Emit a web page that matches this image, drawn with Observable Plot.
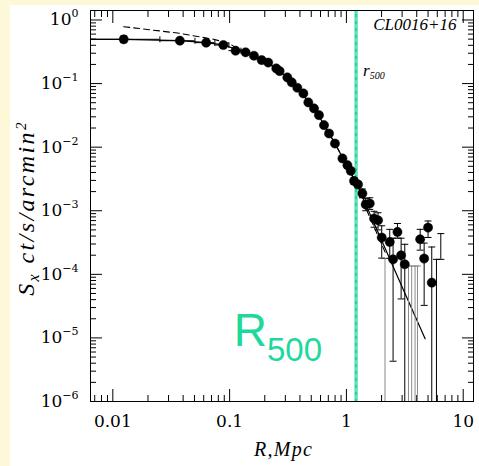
<!DOCTYPE html>
<html><head><meta charset="utf-8">
<script src="https://cdn.jsdelivr.net/npm/d3@7"></script>
<script src="https://cdn.jsdelivr.net/npm/@observablehq/plot@0.6"></script>
<style>
html,body{margin:0;padding:0;background:#fdf9d8;width:479px;height:466px;overflow:hidden;}
#chart{position:absolute;left:10px;top:5px;width:469px;height:461px;background:#fff;}
svg{display:block;}
</style></head><body><div id="chart"></div>
<script>
// ---- data ----
const R   = [0.0124, 0.0375, 0.063, 0.0883, 0.1125, 0.137, 0.1615, 0.188, 0.214, 0.251, 0.268, 0.312, 0.34, 0.38, 0.428, 0.472, 0.528, 0.582, 0.643, 0.71, 0.798, 0.925, 1.02, 1.089, 1.162, 1.257, 1.37, 1.463, 1.584, 1.725, 1.866, 2.006, 2.35, 2.51, 2.735, 2.94, 3.16, 4.28, 4.63, 5.0, 5.38];
const S   = [0.497, 0.472, 0.44, 0.404, 0.329, 0.31, 0.274, 0.234, 0.214, 0.173, 0.157, 0.125, 0.1045, 0.0859, 0.070, 0.0506, 0.0407, 0.0319, 0.0222, 0.0164, 0.0114, 0.00664, 0.0052, 0.00424, 0.00294, 0.00259, 0.00187, 0.00125, 0.0013, 0.000753, 0.000708, 0.000378, 0.000323, 0.000172, 0.000464, 0.000199, 0.000144, 0.000356, 0.000177, 0.000543, 0.000074];
const SLO = [0.44, 0.455, 0.425, 0.39, 0.318, 0.30, 0.265, 0.226, 0.206, 0.167, 0.151, 0.12, 0.1, 0.082, 0.0665, 0.048, 0.0385, 0.030, 0.0208, 0.0153, 0.0106, 0.0061, 0.0047, 0.0038, 0.0026, 0.0023, 0.0016, 0.00100, 0.00105, 0.00055, 0.0005, 0.00018, 0.000179, 0.0000043, 0.00037, 0.000041, 1e-6, 0.00024, 0.0000325, 0.00038, 1e-6];
const SHI = [0.56, 0.49, 0.455, 0.418, 0.34, 0.32, 0.283, 0.242, 0.222, 0.179, 0.163, 0.13, 0.109, 0.09, 0.0735, 0.0532, 0.043, 0.0338, 0.0236, 0.0175, 0.0122, 0.0072, 0.0057, 0.0047, 0.0033, 0.0029, 0.0022, 0.00155, 0.0016, 0.00098, 0.00093, 0.00058, 0.00051, 0.00037, 0.00063, 0.00037, 0.000297, 0.00051, 0.00031, 0.00069, 0.000269];
// radial bins of the innermost points
const BIN_LO = [0.00644, 0.0253, 0.0505, 0.0748, 0.0986];
const BIN_HI = [0.0253, 0.0505, 0.0748, 0.0986, 0.125];
// error bars of non-positive points (upper limits reaching the floor)
const OPEN_R  = [2.14, 3.40, 3.62, 3.87, 4.06];
const OPEN_HI = [0.000177, 0.000135, 0.000135, 0.000135, 0.000135];
const DARK_R  = [5.9, 6.43];
const DARK_LO = [1e-6, 0.000172];
const DARK_HI = [0.000172, 0.000437];
// model curves
const MODEL_R = [0.00644, 0.0124, 0.0375, 0.063, 0.088, 0.11, 0.137, 0.16, 0.19, 0.214, 0.25, 0.3, 0.34, 0.38, 0.43, 0.47, 0.53, 0.58, 0.64, 0.71, 0.8, 0.9, 1.0, 1.1, 1.257, 1.5, 2, 3, 4.72];
const MODEL_S = [0.497, 0.497, 0.472, 0.44, 0.405, 0.355, 0.305, 0.272, 0.232, 0.21, 0.173, 0.133, 0.106, 0.086, 0.066, 0.052, 0.040, 0.031, 0.0228, 0.0165, 0.0113, 0.0076, 0.0054, 0.0039, 0.00237, 0.00114, 0.000344, 0.000063, 0.0000097];
const DASH_R = [0.0124, 0.0375, 0.073, 0.098, 0.116, 0.14, 0.17, 0.2, 0.25, 0.3, 0.38, 0.47, 0.58, 0.71, 0.8, 0.9, 1.0, 1.1, 1.257, 1.5, 2.0, 2.2];
const DASH_S = [0.785, 0.617, 0.497, 0.43, 0.36, 0.305, 0.262, 0.224, 0.173, 0.133, 0.086, 0.052, 0.031, 0.0165, 0.0113, 0.0076, 0.0053, 0.0038, 0.0022, 0.001, 0.0003, 0.0002];
const R500 = 1.21;
const X_DOMAIN = [0.00644, 12.25];
const Y_DOMAIN = [1e-6, 1.41];
const X_MAJOR = [0.01, 0.1, 1, 10];
const X_MINOR = [0.007,0.008,0.009,0.02,0.03,0.04,0.05,0.06,0.07,0.08,0.09,0.2,0.3,0.4,0.5,0.6,0.7,0.8,0.9,2,3,4,5,6,7,8,9];
const Y_MAJOR = [1e-6, 1e-5, 1e-4, 1e-3, 1e-2, 1e-1, 1];
const Y_MINOR = [];
for (const e of [-6,-5,-4,-3,-2,-1]) for (const m of [2,3,4,5,6,7,8,9]) Y_MINOR.push(+(m*Math.pow(10,e)).toPrecision(3));
const TITLE = "CL0016+16";
const XLABEL = "R,Mpc";
const YLABEL = "S_x ct/s/arcmin^2";
const R500_SMALL = "r_500";
const R500_BIG = "R_500";

// ---- build ----
const FLOOR = Y_DOMAIN[0];
const pts = R.map((r,i)=>({r, s:S[i], lo:SLO[i], hi:SHI[i]}));
const model = MODEL_R.map((r,i)=>({r, s:MODEL_S[i]}));
const dash = DASH_R.map((r,i)=>({r, s:DASH_S[i]}));
const bins = BIN_LO.map((lo,i)=>({lo, hi:BIN_HI[i], s:S[i]}));
const openBars = OPEN_R.map((r,i)=>({r, lo:FLOOR, hi:OPEN_HI[i]}));
const darkBars = DARK_R.map((r,i)=>({r, lo:DARK_LO[i], hi:DARK_HI[i]}));
const green = "#1fd89c";
const serif = "Liberation Serif";
const tickFont = "DejaVu Serif";
const hCap = {draw(c){c.moveTo(-3.5,0);c.lineTo(3.5,0);}};
const vCap = {draw(c){c.moveTo(0,-3);c.lineTo(0,3);}};
const allBars = pts.concat(darkBars);

const axOpts = {label:null, fontFamily:tickFont, fontSize:17};
const chart = Plot.plot({
  width:469, height:461, marginLeft:80, marginRight:6, marginTop:5, marginBottom:65,
  x:{type:"log", domain:X_DOMAIN, axis:null, label:null},
  y:{type:"log", domain:Y_DOMAIN, axis:null, label:null},
  style:{background:"white", color:"black", fontFamily:serif},
  marks:[
    Plot.ruleX([R500], {x:d=>d, stroke:green, strokeWidth:3}),
    Plot.ruleX([R500], {x:d=>d, stroke:"white", strokeWidth:0.8, strokeDasharray:"4,3", strokeOpacity:0.7}),
    // ticks
    Plot.axisX(X_MAJOR, {...axOpts, anchor:"bottom", tickSize:-12, tickPadding:25, tickFormat:d=>String(d)}),
    Plot.axisX(X_MINOR, {anchor:"bottom", tickSize:-6, fill:"none", label:null}),
    Plot.axisX(X_MAJOR, {anchor:"top", tickSize:-12, fill:"none", label:null}),
    Plot.axisX(X_MINOR, {anchor:"top", tickSize:-6, fill:"none", label:null}),
    Plot.axisY(Y_MAJOR, {...axOpts, anchor:"left", tickSize:-12, tickPadding:24, tickFormat:d=>"10^"+Math.round(Math.log10(d))}),
    Plot.axisY(Y_MINOR, {anchor:"left", tickSize:-6, fill:"none", label:null}),
    Plot.axisY(Y_MAJOR, {anchor:"right", tickSize:-12, fill:"none", label:null}),
    Plot.axisY(Y_MINOR, {anchor:"right", tickSize:-6, fill:"none", label:null}),
    // model curves
    Plot.line(dash, {x:"r", y:"s", stroke:"black", strokeWidth:1.1, strokeDasharray:"6,4"}),
    Plot.line(model, {x:"r", y:"s", stroke:"black", strokeWidth:1.2}),
    // error bars
    Plot.ruleX(openBars, {x:"r", y1:"lo", y2:"hi", stroke:"#8a8a8a", strokeWidth:1}),
    Plot.dot(openBars, {x:"r", y:"hi", symbol:hCap, stroke:"#8a8a8a", strokeWidth:1}),
    Plot.ruleX(allBars, {x:"r", y1:"lo", y2:"hi", stroke:"black", strokeWidth:1}),
    Plot.dot(allBars, {x:"r", y:"hi", symbol:hCap, stroke:"black", strokeWidth:1}),
    Plot.dot(allBars.filter(d=>d.lo>FLOOR), {x:"r", y:"lo", symbol:hCap, stroke:"black", strokeWidth:1}),
    Plot.ruleY(bins, {x1:"lo", x2:"hi", y:"s", stroke:"black", strokeWidth:1}),
    Plot.dot(bins, {x:"hi", y:"s", symbol:vCap, stroke:"black", strokeWidth:1}),
    Plot.dot(pts, {x:"r", y:"s", r:4.6, fill:"black", stroke:"black", strokeWidth:0.5}),
    Plot.frame({stroke:"black", strokeWidth:1}),
    // texts
    Plot.text([TITLE], {text:d=>d, frameAnchor:"top-right", dx:-17, dy:19, lineAnchor:"bottom", textAnchor:"end", fontSize:17, fontStyle:"italic", fontFamily:serif}),
    Plot.text([R500], {x:d=>d, text:()=>R500_SMALL, frameAnchor:"top", dx:7, dy:65, lineAnchor:"bottom", textAnchor:"start", fontSize:17, fontStyle:"italic", fontFamily:serif}),
    Plot.text([R500], {x:d=>d, text:()=>R500_BIG, frameAnchor:"bottom", dx:-34, dy:-56, lineAnchor:"bottom", textAnchor:"end", fontSize:46, fontFamily:"Liberation Sans", fill:green}),
    Plot.text([XLABEL], {text:d=>d, frameAnchor:"bottom", dx:1.5, dy:54, lineAnchor:"bottom", fontSize:20, fontStyle:"italic", fontFamily:serif}),
    Plot.text([YLABEL], {text:d=>d, frameAnchor:"left", dx:-64, dy:2, rotate:-90, textAnchor:"start", fontSize:24, fontStyle:"italic", fontFamily:serif})
  ]
});
document.getElementById("chart").appendChild(chart);

// rich text (sub/superscripts) as real tspans
function rich(el, parts){
  const t = d3.select(el); t.text(null); let prev = 0;
  for (const p of parts){
    const rise = p.rise||0;
    const ts = t.append("tspan").text(p.t).attr("dy", prev - rise);
    if (p.size) ts.attr("font-size", p.size);
    prev = rise;
  }
}
const svg = d3.select(chart);
svg.selectAll('g[aria-label="y-axis tick label"] text').each(function(){
  const s = this.textContent; const e = s.split("^")[1];
  rich(this, [{t:"10"},{t:e.replace("-","\u2212"), size:11, rise:8}]);
});
svg.selectAll("text").each(function(){
  const s = this.textContent;
  if (s === YLABEL) {
    rich(this, [{t:"S"},{t:"x", size:16, rise:-5},{t:" ct/s/arcmin"},{t:"2", size:15, rise:8}]);
    this.setAttribute("letter-spacing", "2.4");
    this.setAttribute("text-anchor", "start");
    const len = this.getComputedTextLength();
    this.setAttribute("x", -len/2);
  }
  else if (s === R500_SMALL) rich(this, [{t:"r"},{t:"500", size:10, rise:-3}]);
  else if (s === R500_BIG) rich(this, [{t:"R"},{t:"500", size:33, rise:-15}]);
  else if (s === XLABEL) this.setAttribute("letter-spacing", "1.3");
});
</script></body></html>
